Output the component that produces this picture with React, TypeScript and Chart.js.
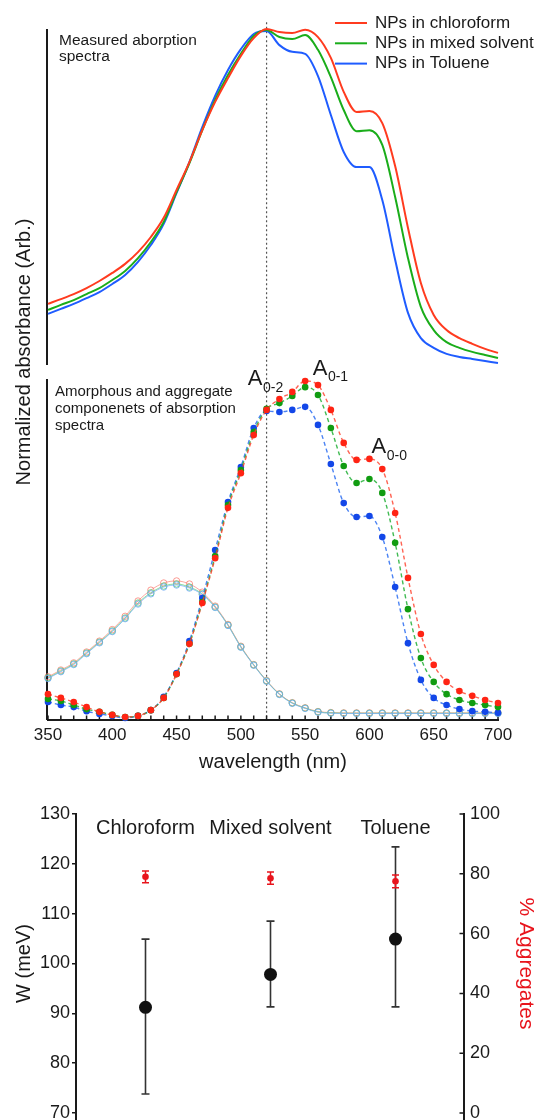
import React, { useEffect, useRef } from 'react';
import { Chart, registerables } from 'chart.js';

Chart.register(...registerables);

// ---------- DATA ----------
const wavelengths = [350, 360, 370, 380, 390, 400, 410, 420, 430, 440, 450, 460, 470, 480, 490, 500, 510, 520, 530, 540, 550, 560, 570, 580, 590, 600, 610, 620, 630, 640, 650, 660, 670, 680, 690, 700];

// Measured absorption spectra (top panel, normalized)
const measuredChloroform = [0.182, 0.196, 0.211, 0.229, 0.250, 0.274, 0.301, 0.336, 0.381, 0.438, 0.521, 0.604, 0.699, 0.783, 0.854, 0.920, 0.973, 1.000, 0.991, 0.988, 0.998, 0.976, 0.914, 0.813, 0.753, 0.756, 0.720, 0.592, 0.408, 0.244, 0.149, 0.104, 0.080, 0.063, 0.048, 0.036];
const measuredMixed = [0.164, 0.179, 0.193, 0.211, 0.229, 0.253, 0.280, 0.318, 0.366, 0.426, 0.515, 0.601, 0.699, 0.789, 0.863, 0.926, 0.979, 0.997, 0.976, 0.970, 0.982, 0.938, 0.857, 0.759, 0.696, 0.699, 0.655, 0.500, 0.318, 0.173, 0.104, 0.068, 0.051, 0.039, 0.030, 0.021];
const measuredToluene = [0.152, 0.167, 0.182, 0.199, 0.217, 0.241, 0.268, 0.307, 0.357, 0.420, 0.512, 0.604, 0.708, 0.801, 0.878, 0.940, 0.985, 0.994, 0.952, 0.932, 0.926, 0.860, 0.744, 0.634, 0.589, 0.589, 0.491, 0.313, 0.155, 0.080, 0.051, 0.033, 0.024, 0.018, 0.012, 0.006];

// Aggregate components (middle panel, filled dots)
const aggregateChloroform = [0.076, 0.065, 0.053, 0.038, 0.024, 0.015, 0.009, 0.012, 0.029, 0.065, 0.135, 0.224, 0.344, 0.476, 0.624, 0.726, 0.838, 0.912, 0.944, 0.965, 0.997, 0.985, 0.912, 0.815, 0.765, 0.768, 0.738, 0.609, 0.418, 0.253, 0.162, 0.112, 0.085, 0.071, 0.059, 0.050];
const aggregateMixed = [0.062, 0.056, 0.044, 0.032, 0.024, 0.015, 0.009, 0.012, 0.029, 0.065, 0.135, 0.224, 0.347, 0.482, 0.632, 0.735, 0.847, 0.915, 0.932, 0.953, 0.979, 0.956, 0.859, 0.747, 0.697, 0.709, 0.668, 0.521, 0.326, 0.182, 0.112, 0.076, 0.059, 0.050, 0.044, 0.038];
const aggregateToluene = [0.053, 0.044, 0.038, 0.026, 0.018, 0.012, 0.006, 0.012, 0.029, 0.068, 0.138, 0.232, 0.359, 0.500, 0.641, 0.744, 0.859, 0.909, 0.906, 0.912, 0.921, 0.868, 0.753, 0.638, 0.597, 0.600, 0.538, 0.391, 0.226, 0.118, 0.065, 0.044, 0.032, 0.026, 0.024, 0.021];

// Amorphous components (middle panel, open circles)
const amorphousChloroform = [0.127, 0.147, 0.168, 0.200, 0.232, 0.266, 0.305, 0.350, 0.382, 0.403, 0.409, 0.400, 0.376, 0.335, 0.281, 0.217, 0.163, 0.116, 0.077, 0.051, 0.036, 0.025, 0.022, 0.021, 0.021, 0.021, 0.021, 0.021, 0.021, 0.021, 0.021, 0.021, 0.021, 0.021, 0.021, 0.021];
const amorphousMixed = [0.124, 0.144, 0.165, 0.197, 0.229, 0.262, 0.300, 0.344, 0.374, 0.394, 0.400, 0.391, 0.371, 0.332, 0.279, 0.215, 0.162, 0.115, 0.076, 0.050, 0.035, 0.024, 0.021, 0.020, 0.020, 0.020, 0.020, 0.020, 0.020, 0.020, 0.020, 0.020, 0.020, 0.020, 0.020, 0.020];
const amorphousToluene = [0.122, 0.142, 0.163, 0.195, 0.227, 0.260, 0.298, 0.341, 0.371, 0.391, 0.397, 0.388, 0.369, 0.331, 0.278, 0.214, 0.161, 0.114, 0.075, 0.049, 0.034, 0.023, 0.020, 0.019, 0.019, 0.019, 0.019, 0.019, 0.019, 0.019, 0.019, 0.019, 0.019, 0.019, 0.019, 0.019];

const legendLabels = ['NPs in chloroform', 'NPs in mixed solvent', 'NPs in Toluene'];
const refLineNm = 520;

// Vibronic peak labels (wavelength, middle-panel value)
const peakLabelSubs = ['0-2', '0-1', '0-0'];
const peakLabelNm = [505.4, 555.9, 601.7];
const peakLabelVal = [0.985, 1.015, 0.785];

// Bottom panel
const categories = ['Chloroform', 'Mixed solvent', 'Toluene'];
const wValues = [91.2, 97.8, 104.9];
const wLow = [73.8, 91.3, 91.3];
const wHigh = [104.9, 108.5, 123.4];
const aggValues = [79.0, 78.5, 77.5];
const aggLow = [77.0, 76.5, 75.3];
const aggHigh = [80.9, 80.6, 79.6];

// ---------- STYLE / LAYOUT ----------
const FONT = '"Liberation Sans", Arial, Helvetica, sans-serif';
const INK = '#1a1a1a';
const RED = '#ff3b1f';
const GREEN = '#1aad1a';
const BLUE = '#1f5cff';
const RED_D = '#ff2414';
const GREEN_D = '#119c11';
const BLUE_D = '#1347e8';

// pixel layout of the spectra canvas
const AREA_TOP = 29;
const AREA_BOTTOM = 720;
const TOP_PANEL_BOTTOM = 365;
const MID_PANEL_TOP = 380;
const TOP_SCALE_MIN = -(AREA_BOTTOM - TOP_PANEL_BOTTOM) / (TOP_PANEL_BOTTOM - AREA_TOP);
const MID_SCALE_MAX = (AREA_BOTTOM - AREA_TOP) / (AREA_BOTTOM - MID_PANEL_TOP);

Chart.defaults.font.family = FONT;
Chart.defaults.color = INK;

const pts = (arr: number[]) => wavelengths.map((w, i) => ({ x: w, y: arr[i] }));

const spectraDecor = {
  id: 'spectraDecor',
  beforeDatasetsDraw(chart: any) {
    const { ctx, chartArea, scales } = chart;
    const x = scales.x, yT = scales.yTop, yM = scales.yMid;
    ctx.save();
    // dotted reference line
    const xd = x.getPixelForValue(refLineNm);
    ctx.strokeStyle = '#555';
    ctx.lineWidth = 1.2;
    ctx.setLineDash([2, 2.5]);
    ctx.beginPath();
    ctx.moveTo(xd, yT.getPixelForValue(1.02));
    ctx.lineTo(xd, yM.getPixelForValue(0));
    ctx.stroke();
    ctx.setLineDash([]);
    // panel y-axis lines
    ctx.strokeStyle = INK;
    ctx.lineWidth = 2;
    const xl = chartArea.left - 1;
    ctx.beginPath();
    ctx.moveTo(xl, yT.getPixelForValue(1));
    ctx.lineTo(xl, yT.getPixelForValue(0));
    ctx.moveTo(xl, yM.getPixelForValue(1) - 1);
    ctx.lineTo(xl, yM.getPixelForValue(0));
    ctx.stroke();
    // inward minor ticks on x axis
    ctx.lineWidth = 1.5;
    const yb = yM.getPixelForValue(0);
    ctx.beginPath();
    x.ticks.forEach((t: any) => {
      const px = x.getPixelForValue(t.value);
      ctx.moveTo(px, yb);
      ctx.lineTo(px, yb - 4.5);
    });
    ctx.stroke();
    ctx.restore();
  },
  afterDatasetsDraw(chart: any) {
    const { ctx, chartArea, scales } = chart;
    const x = scales.x, yM = scales.yMid;
    ctx.save();
    ctx.fillStyle = INK;
    ctx.textBaseline = 'alphabetic';
    ctx.textAlign = 'left';
    // panel captions
    ctx.font = `15.5px ${FONT}`;
    ctx.fillText('Measured aborption', chartArea.left + 11, 45);
    ctx.fillText('spectra', chartArea.left + 11, 61);
    ctx.font = `15px ${FONT}`;
    ctx.fillText('Amorphous and aggregate', chartArea.left + 7, 396);
    ctx.fillText('componenets of absorption', chartArea.left + 7, 413);
    ctx.fillText('spectra', chartArea.left + 7, 430);
    // legend
    const colors = [RED, GREEN, BLUE];
    ctx.font = `17px ${FONT}`;
    ctx.textBaseline = 'middle';
    legendLabels.forEach((lab, i) => {
      const ly = 23 + i * 20.3;
      ctx.strokeStyle = colors[i];
      ctx.lineWidth = 2;
      ctx.beginPath();
      ctx.moveTo(335, ly);
      ctx.lineTo(367, ly);
      ctx.stroke();
      ctx.fillText(lab, 375, ly);
    });
    // vibronic labels
    ctx.textBaseline = 'alphabetic';
    peakLabelSubs.forEach((sub, i) => {
      const px = x.getPixelForValue(peakLabelNm[i]);
      const py = yM.getPixelForValue(peakLabelVal[i]);
      ctx.font = `22px ${FONT}`;
      ctx.fillText('A', px, py);
      const w = ctx.measureText('A').width;
      ctx.font = `14px ${FONT}`;
      ctx.fillText(sub, px + w + 0.5, py + 6.5);
    });
    // shared y title
    ctx.translate(24, 352);
    ctx.rotate(-Math.PI / 2);
    ctx.textAlign = 'center';
    ctx.textBaseline = 'middle';
    ctx.font = `20px ${FONT}`;
    ctx.fillText('Normalized absorbance (Arb.)', 0, 0);
    ctx.restore();
  },
};

const widthDecor = {
  id: 'widthDecor',
  beforeDatasetsDraw(chart: any) {
    const { ctx, chartArea, scales, height } = chart;
    const x = scales.x, yW = scales.yW, yA = scales.yA;
    ctx.save();
    // axis extensions
    ctx.strokeStyle = INK;
    ctx.lineWidth = 2;
    ctx.beginPath();
    ctx.moveTo(chartArea.left, chartArea.bottom);
    ctx.lineTo(chartArea.left, height);
    ctx.moveTo(chartArea.right, chartArea.bottom);
    ctx.lineTo(chartArea.right, height);
    ctx.stroke();
    // inward ticks on right axis
    ctx.lineWidth = 1.5;
    ctx.beginPath();
    yA.ticks.forEach((t: any) => {
      const py = yA.getPixelForValue(t.value);
      ctx.moveTo(chartArea.right, py);
      ctx.lineTo(chartArea.right - 4.5, py);
    });
    ctx.stroke();
    const bar = (px: number, y1: number, y2: number, cap: number, color: string, lw: number) => {
      ctx.strokeStyle = color;
      ctx.lineWidth = lw;
      ctx.beginPath();
      ctx.moveTo(px, y1);
      ctx.lineTo(px, y2);
      ctx.moveTo(px - cap, y1);
      ctx.lineTo(px + cap, y1);
      ctx.moveTo(px - cap, y2);
      ctx.lineTo(px + cap, y2);
      ctx.stroke();
    };
    categories.forEach((_, i) => {
      const px = x.getPixelForValue(i);
      bar(px, yW.getPixelForValue(wLow[i]), yW.getPixelForValue(wHigh[i]), 4, '#333', 1.6);
    });
    categories.forEach((_, i) => {
      const px = x.getPixelForValue(i);
      bar(px, yA.getPixelForValue(aggLow[i]), yA.getPixelForValue(aggHigh[i]), 3.5, '#e8141c', 1.5);
    });
    // category labels
    ctx.fillStyle = INK;
    ctx.font = `20px ${FONT}`;
    ctx.textAlign = 'center';
    ctx.textBaseline = 'middle';
    categories.forEach((c, i) => {
      ctx.fillText(c, x.getPixelForValue(i), chartArea.top + 14);
    });
    ctx.restore();
  },
};

export default function App() {
  const specRef = useRef<HTMLCanvasElement | null>(null);
  const widthRef = useRef<HTMLCanvasElement | null>(null);

  useEffect(() => {
    const mk = (arr: number[], color: string, axis: string, extra: any = {}) => ({
      data: pts(arr),
      yAxisID: axis,
      borderColor: color,
      backgroundColor: color,
      clip: 10,
      cubicInterpolationMode: 'monotone',
      ...extra,
    });
    const aggExtra = (color: string) => ({
      borderWidth: 1.4,
      borderDash: [4, 3],
      pointRadius: 3.3,
      pointBackgroundColor: color,
      pointBorderWidth: 0,
    });
    const amoExtra = (color: string) => ({
      borderWidth: 1,
      pointRadius: 3.2,
      pointBackgroundColor: 'rgba(255,255,255,0)',
      pointBorderColor: color,
      pointBorderWidth: 1,
    });
    const spec = new Chart(specRef.current as HTMLCanvasElement, {
      type: 'line',
      data: {
        datasets: [
          mk(aggregateChloroform, 'rgba(255,60,40,0.8)', 'yMid', aggExtra(RED_D)),
          mk(aggregateMixed, 'rgba(17,170,40,0.8)', 'yMid', aggExtra(GREEN_D)),
          mk(aggregateToluene, 'rgba(30,100,240,0.8)', 'yMid', aggExtra(BLUE_D)),
          mk(amorphousToluene, 'rgba(120,175,245,0.75)', 'yMid', amoExtra('rgba(110,170,245,0.8)')),
          mk(amorphousMixed, 'rgba(100,210,120,0.75)', 'yMid', amoExtra('rgba(90,205,115,0.8)')),
          mk(amorphousChloroform, 'rgba(250,140,130,0.75)', 'yMid', amoExtra('rgba(250,130,120,0.8)')),
          mk(measuredChloroform, RED, 'yTop', { borderWidth: 2, pointRadius: 0 }),
          mk(measuredMixed, GREEN, 'yTop', { borderWidth: 2, pointRadius: 0 }),
          mk(measuredToluene, BLUE, 'yTop', { borderWidth: 2, pointRadius: 0 }),
        ],
      },
      options: {
        responsive: false,
        animation: false,
        devicePixelRatio: 1,
        layout: { padding: { top: AREA_TOP, left: 48, right: 41, bottom: 0 } },
        plugins: { legend: { display: false }, tooltip: { enabled: false } },
        scales: {
          x: {
            type: 'linear',
            min: 350,
            max: 700,
            afterFit: (s: any) => {
              s.height = 70;
              s.paddingLeft = 0;
              s.paddingRight = 0;
            },
            ticks: {
              stepSize: 10,
              autoSkip: false,
              maxRotation: 0,
              padding: 5,
              color: INK,
              font: { size: 17 },
              callback: (v: any) => (Number(v) % 50 === 0 ? String(v) : ''),
            },
            grid: { display: false, drawTicks: false },
            border: { display: true, color: INK, width: 2 },
            title: {
              display: true,
              text: 'wavelength (nm)',
              color: INK,
              font: { size: 20 },
              padding: { top: 0, bottom: 16 },
            },
          },
          yTop: { type: 'linear', display: false, min: TOP_SCALE_MIN, max: 1 },
          yMid: { type: 'linear', display: false, min: 0, max: MID_SCALE_MAX },
        },
      } as any,
      plugins: [spectraDecor],
    } as any);

    const width = new Chart(widthRef.current as HTMLCanvasElement, {
      type: 'scatter',
      data: {
        datasets: [
          {
            data: aggValues.map((v, i) => ({ x: i, y: v })),
            yAxisID: 'yA',
            pointRadius: 3.3,
            pointBackgroundColor: '#e8141c',
            pointBorderWidth: 0,
            showLine: false,
          },
          {
            data: wValues.map((v, i) => ({ x: i, y: v })),
            yAxisID: 'yW',
            pointRadius: 6.5,
            pointBackgroundColor: '#111',
            pointBorderWidth: 0,
            showLine: false,
          },
        ],
      },
      options: {
        responsive: false,
        animation: false,
        devicePixelRatio: 1,
        layout: { padding: { top: 24, left: 0, right: 0, bottom: 7 } },
        plugins: { legend: { display: false }, tooltip: { enabled: false } },
        scales: {
          x: { type: 'linear', display: false, min: -0.556, max: 2.548 },
          yW: {
            type: 'linear',
            position: 'left',
            min: 70,
            max: 130,
            afterFit: (s: any) => {
              s.width = 76;
              s.paddingTop = 0;
              s.paddingBottom = 0;
            },
            ticks: { stepSize: 10, padding: 2, color: INK, font: { size: 18 } },
            grid: { display: true, drawOnChartArea: false, drawTicks: true, tickLength: 4, color: INK, lineWidth: 1.5 },
            border: { display: true, color: INK, width: 2 },
            title: { display: true, text: 'W (meV)', color: INK, font: { size: 20 }, padding: { top: 12, bottom: 0 } },
          },
          yA: {
            type: 'linear',
            position: 'right',
            min: 0,
            max: 100,
            afterFit: (s: any) => {
              s.width = 75;
              s.paddingTop = 0;
              s.paddingBottom = 0;
            },
            ticks: { stepSize: 20, padding: 6, color: INK, font: { size: 18 } },
            grid: { display: false, drawTicks: false },
            border: { display: true, color: INK, width: 2 },
            title: { display: true, text: '% Aggregates', color: '#e8141c', font: { size: 21 }, padding: { top: 1, bottom: 0 } },
          },
        },
      } as any,
      plugins: [widthDecor],
    } as any);

    return () => {
      spec.destroy();
      width.destroy();
    };
  }, []);

  return (
    <div style={{ position: 'absolute', left: 0, top: 0, width: 539, height: 1120, overflow: 'hidden', background: '#fff' }}>
      <canvas ref={specRef} width={539} height={790} style={{ position: 'absolute', left: 0, top: 0, display: 'block' }} />
      <canvas ref={widthRef} width={539} height={330} style={{ position: 'absolute', left: 0, top: 790, display: 'block' }} />
    </div>
  );
}
